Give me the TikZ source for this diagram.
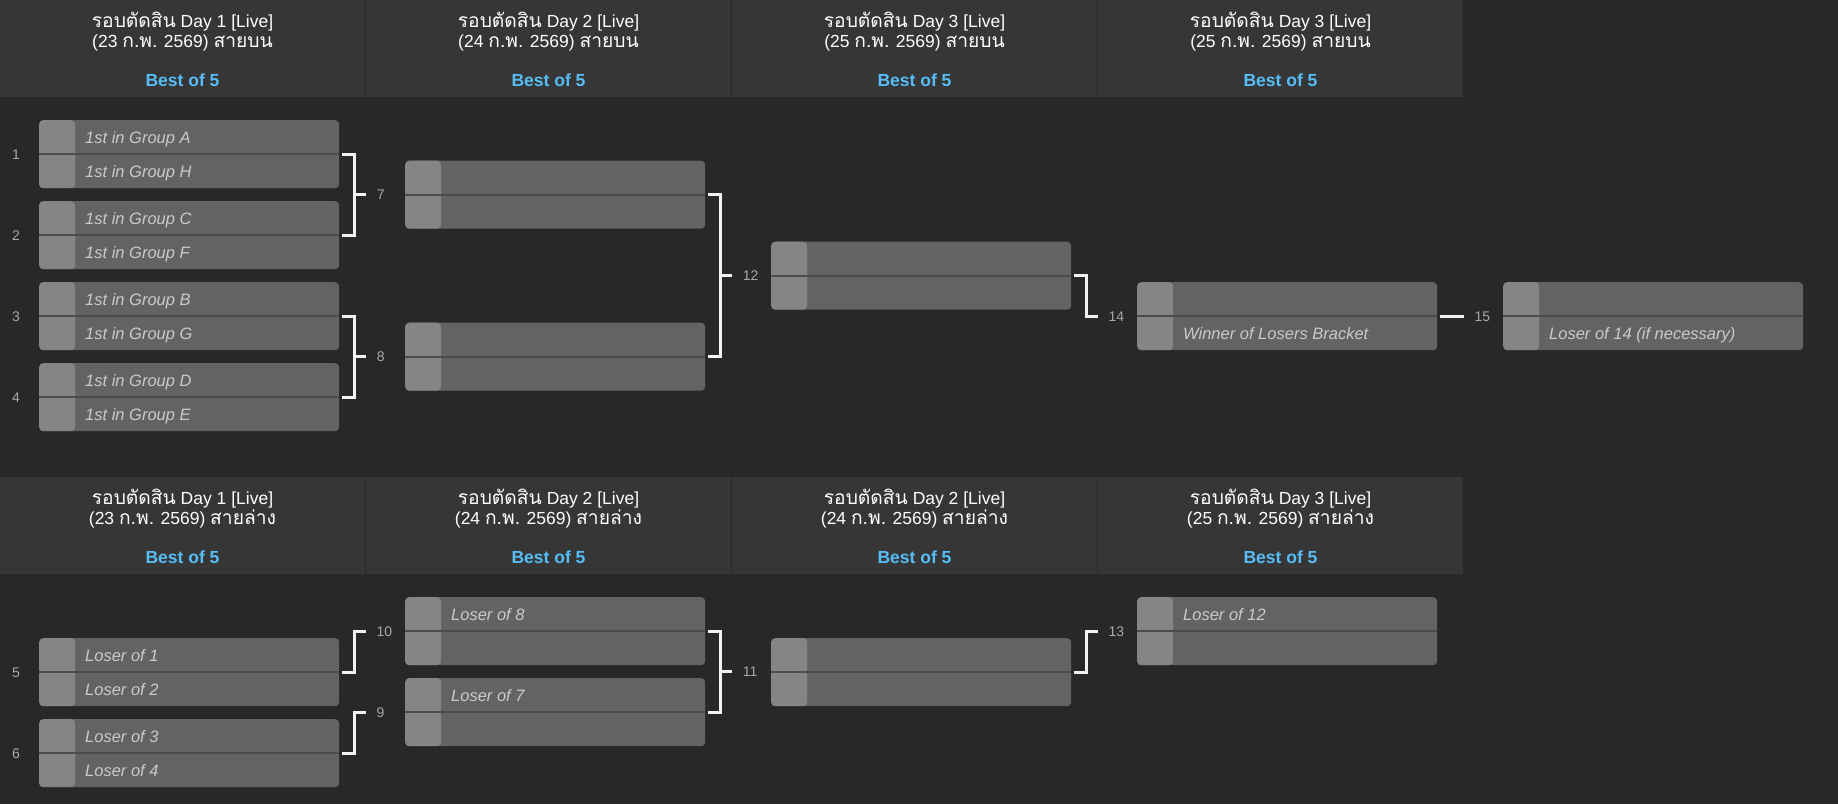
\documentclass[tikz,border=0pt]{standalone}
\usepackage{fontspec}
\setmainfont{Liberation Sans}
\newfontfamily\tf[Script=Thai,Scale=1.1]{Loma}
\usetikzlibrary{calc}
\definecolor{bgc}{HTML}{282828}
\definecolor{hdrc}{HTML}{363636}
\definecolor{boxc}{HTML}{636363}
\definecolor{sqc}{HTML}{858585}
\definecolor{divc}{HTML}{4C4C4C}
\definecolor{lblc}{HTML}{CACACA}
\definecolor{numc}{HTML}{A8A8A8}
\definecolor{bestc}{HTML}{56BDF5}
\definecolor{connc}{HTML}{F2F2F2}
\tikzset{
  match/.style={rectangle, rounded corners=4pt, fill=boxc, minimum width=300pt,
    minimum height=68pt, inner sep=0pt, anchor=north west,
    path picture={
      \fill[sqc] (path picture bounding box.north west) rectangle ([xshift=36pt]path picture bounding box.south west);
      \draw[divc, line width=2pt] (path picture bounding box.west) -- (path picture bounding box.east);
    }},
  lbl/.style={anchor=base west, inner sep=0pt, text=lblc, font=\fontsize{16.5}{19}\selectfont\itshape},
  num/.style={inner sep=0pt, text=numc, font=\fontsize{14}{16}\selectfont},
  hdrtxt/.style={anchor=base, inner sep=0pt, text=white, font=\fontsize{17.5}{20}\selectfont},
  besttxt/.style={anchor=base, inner sep=0pt, text=bestc, font=\fontsize{17.5}{20}\selectfont\bfseries},
  conn/.style={draw=connc, line width=3pt},
}
\newcommand\matchat[3]{\node[match] (#1) at (#2,#3) {};}
\newcommand\rowa[2]{\node[lbl] (#1a) at ([xshift=46pt,yshift=-23pt]#1.north west) {#2};}
\newcommand\rowb[2]{\node[lbl] (#1b) at ([xshift=46pt,yshift=-57pt]#1.north west) {#2};}
\newcommand\bracketto[4]{%
  \draw[conn] ([xshift=3pt]#1.east) -- ([xshift=15pt]#1.east) -- ([xshift=15pt]#2.east) -- ([xshift=3pt]#2.east);
  \draw[conn] ($([xshift=15pt]#1.east)!.5!([xshift=15pt]#2.east)$) -- ++(12,0)
    node[num, anchor=base west, xshift=9pt, yshift=-5pt] (#3) {#4};}
\newcommand\stepto[4]{%
  \draw[conn] ([xshift=3pt]#1.east) -- ([xshift=15pt]#1.east) |- ([xshift=-39pt]#2.west)
    node[num, anchor=base west, xshift=9pt, yshift=-5pt] (#3) {#4};}
\newcommand\hdr[5]{% name, x, ytop, line1, line2
  \node[hdrtxt] (#1a) at (#2,#3+27) {#4};
  \node[hdrtxt] (#1b) at (#2,#3+47.5) {#5};
  \node[besttxt] (#1c) at (#2,#3+86) {Best of 5};}
\begin{document}
\begin{tikzpicture}[x=1pt,y=-1pt]
\fill[bgc] (0,0) rectangle (1838,804);
\useasboundingbox (0,0) rectangle (1838,804);
% header bars
\foreach \i in {0,1,2,3} {
  \fill[hdrc] (\i*366,0) rectangle (\i*366+365,97);
  \fill[hdrc] (\i*366,477) rectangle (\i*366+365,574);
}
\hdr{ht1}{182.5}{0}{{\tf รอบตัดสิน} Day 1 [Live]}{(23 {\tf ก.พ.} 2569) {\tf สายบน}}
\hdr{ht2}{548.5}{0}{{\tf รอบตัดสิน} Day 2 [Live]}{(24 {\tf ก.พ.} 2569) {\tf สายบน}}
\hdr{ht3}{914.5}{0}{{\tf รอบตัดสิน} Day 3 [Live]}{(25 {\tf ก.พ.} 2569) {\tf สายบน}}
\hdr{ht4}{1280.5}{0}{{\tf รอบตัดสิน} Day 3 [Live]}{(25 {\tf ก.พ.} 2569) {\tf สายบน}}
\hdr{hb1}{182.5}{477}{{\tf รอบตัดสิน} Day 1 [Live]}{(23 {\tf ก.พ.} 2569) {\tf สายล่าง}}
\hdr{hb2}{548.5}{477}{{\tf รอบตัดสิน} Day 2 [Live]}{(24 {\tf ก.พ.} 2569) {\tf สายล่าง}}
\hdr{hb3}{914.5}{477}{{\tf รอบตัดสิน} Day 2 [Live]}{(24 {\tf ก.พ.} 2569) {\tf สายล่าง}}
\hdr{hb4}{1280.5}{477}{{\tf รอบตัดสิน} Day 3 [Live]}{(25 {\tf ก.พ.} 2569) {\tf สายล่าง}}
% upper bracket
\matchat{m1}{39}{120} \rowa{m1}{1st in Group A} \rowb{m1}{1st in Group H}
\matchat{m2}{39}{201} \rowa{m2}{1st in Group C} \rowb{m2}{1st in Group F}
\matchat{m3}{39}{282} \rowa{m3}{1st in Group B} \rowb{m3}{1st in Group G}
\matchat{m4}{39}{363} \rowa{m4}{1st in Group D} \rowb{m4}{1st in Group E}
\matchat{m7}{405}{160.5}
\matchat{m8}{405}{322.5}
\matchat{m12}{771}{241.5}
\matchat{m14}{1137}{282} \rowb{m14}{Winner of Losers Bracket}
\matchat{m15}{1503}{282} \rowb{m15}{Loser of 14 (if necessary)}
% lower bracket
\matchat{m5}{39}{638} \rowa{m5}{Loser of 1} \rowb{m5}{Loser of 2}
\matchat{m6}{39}{719} \rowa{m6}{Loser of 3} \rowb{m6}{Loser of 4}
\matchat{m10}{405}{597} \rowa{m10}{Loser of 8}
\matchat{m9}{405}{678} \rowa{m9}{Loser of 7}
\matchat{m11}{771}{638}
\matchat{m13}{1137}{597} \rowa{m13}{Loser of 12}
% match numbers on the left
\node[num, anchor=base] (n1) at (16,159) {1};
\node[num, anchor=base] (n2) at (16,240) {2};
\node[num, anchor=base] (n3) at (16,321) {3};
\node[num, anchor=base] (n4) at (16,402) {4};
\node[num, anchor=base] (n5) at (16,677) {5};
\node[num, anchor=base] (n6) at (16,758) {6};
% connectors
\bracketto{m1}{m2}{n7}{7}
\bracketto{m3}{m4}{n8}{8}
\bracketto{m7}{m8}{n12}{12}
\stepto{m12}{m14}{n14}{14}
\draw[conn] ([xshift=3pt]m14.east) -- ([xshift=-39pt]m15.west)
  node[num, anchor=base west, xshift=9pt, yshift=-5pt] (n15) {15};
\stepto{m5}{m10}{n10}{10}
\stepto{m6}{m9}{n9}{9}
\bracketto{m10}{m9}{n11}{11}
\stepto{m11}{m13}{n13}{13}
\end{tikzpicture}
\end{document}
